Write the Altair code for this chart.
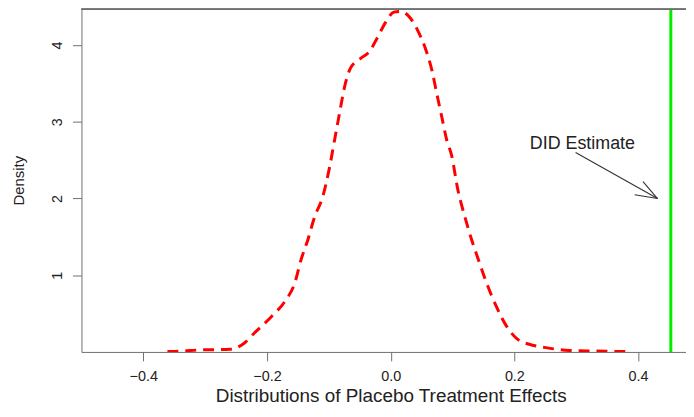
import altair as alt
import pandas as pd

# ---- data ----
effect = [-0.361, -0.340, -0.311, -0.285, -0.260, -0.248, -0.238, -0.220, -0.193,
          -0.171, -0.155, -0.145, -0.134, -0.123, -0.110, -0.099, -0.091, -0.083,
          -0.075, -0.065, -0.048, -0.035, -0.022, -0.008, 0.005, 0.016, 0.032,
          0.045, 0.056, 0.067, 0.075, 0.083, 0.091, 0.098, 0.109, 0.120, 0.131,
          0.142, 0.155, 0.171, 0.187, 0.206, 0.224, 0.251, 0.289, 0.331, 0.380]
density = [0.005, 0.010, 0.025, 0.030, 0.035, 0.060, 0.107, 0.25, 0.46,
           0.66, 0.90, 1.20, 1.46, 1.76, 2.02, 2.40, 2.75, 3.10,
           3.44, 3.70, 3.83, 3.91, 4.09, 4.30, 4.43, 4.44, 4.35,
           4.17, 3.96, 3.66, 3.35, 3.05, 2.75, 2.58, 2.10, 1.76, 1.46,
           1.20, 0.90, 0.59, 0.34, 0.16, 0.10, 0.056, 0.020, 0.012, 0.005]

did_estimate = [0.453]

label_text = ["DID Estimate"]
label_x = [0.31]
label_y = [2.713]

# arrow: shaft + two head strokes
arrow_x = [0.299, 0.4315, 0.4315]
arrow_y = [2.60, 2.00, 2.00]
arrow_x2 = [0.4315, 0.408, 0.3945]
arrow_y2 = [2.00, 2.22, 2.05]

x_ticks = [-0.4, -0.2, 0.0, 0.2, 0.4]
y_ticks = [1, 2, 3, 4]

# ---- layout ----
W, H = 609, 345
X_MIN, X_MAX = -0.5, -0.5 + W / 623.0
Y_MAX = 4.465
FONT = "Liberation Sans"

xs = alt.Scale(domain=[X_MIN, X_MAX], nice=False, zero=False)
ys = alt.Scale(domain=[0, Y_MAX], nice=False, zero=False)

x_axis = alt.Axis(values=x_ticks, format=".1f", title="Distributions of Placebo Treatment Effects",
                  titleX=311.5, titleY=49.5, titleAlign="center", titleBaseline="alphabetic",
                  titleFontSize=19, titleFontWeight="normal", labelPadding=9)
y_axis = alt.Axis(values=y_ticks, format="d", title="Density",
                  labelAngle=270, labelAlign="center", labelBaseline="alphabetic", labelPadding=11,
                  titleAngle=270, titleX=-58, titleY=172, titleAlign="center",
                  titleBaseline="alphabetic", titleFontSize=15, titleFontWeight="normal")


def X(f):
    return alt.X(f, type="quantitative", scale=xs, axis=x_axis)


def Y(f):
    return alt.Y(f, type="quantitative", scale=ys, axis=y_axis)


curve_df = pd.DataFrame({"x": effect, "y": density})
did_df = pd.DataFrame({"x": did_estimate})
label_df = pd.DataFrame({"x": label_x, "y": label_y, "t": label_text})
arrow_df = pd.DataFrame({"x": arrow_x, "y": arrow_y, "x2": arrow_x2, "y2": arrow_y2})

curve = alt.Chart(curve_df).mark_line(
    color="#ff0000", strokeWidth=3, strokeDash=[11, 7], interpolate="monotone", clip=True
).encode(x=X("x"), y=Y("y"))

did = alt.Chart(did_df).mark_rule(color="#00ee00", strokeWidth=3).encode(x=X("x"))

arrow = alt.Chart(arrow_df).mark_rule(color="#333333", strokeWidth=1.1).encode(
    x=X("x"), y=Y("y"), x2=alt.X2("x2"), y2=alt.Y2("y2")
)

label = alt.Chart(label_df).mark_text(
    font=FONT, fontSize=18, color="#222222", align="center", baseline="middle"
).encode(x=X("x"), y=Y("y"), text="t:N")

frame_top = alt.Chart(curve_df).mark_rule(color="#707070", strokeWidth=1).encode(
    x=alt.value(0), x2=alt.value(W), y=alt.value(0)
)

chart = alt.layer(curve, did, arrow, label, frame_top).properties(
    width=W, height=H,
    autosize=alt.AutoSizeParams(type="none"),
    padding={"left": 74, "top": 0, "right": 0, "bottom": 54},
).configure_view(stroke=None).configure_axis(
    grid=False, domainColor="#707070", tickColor="#707070", tickSize=9,
    labelFont=FONT, labelFontSize=14.5, labelColor="#222222",
    titleFont=FONT, titleColor="#222222", labelOverlap=False,
)

chart.save("out.html", embed_options={"renderer": "svg", "actions": False})
